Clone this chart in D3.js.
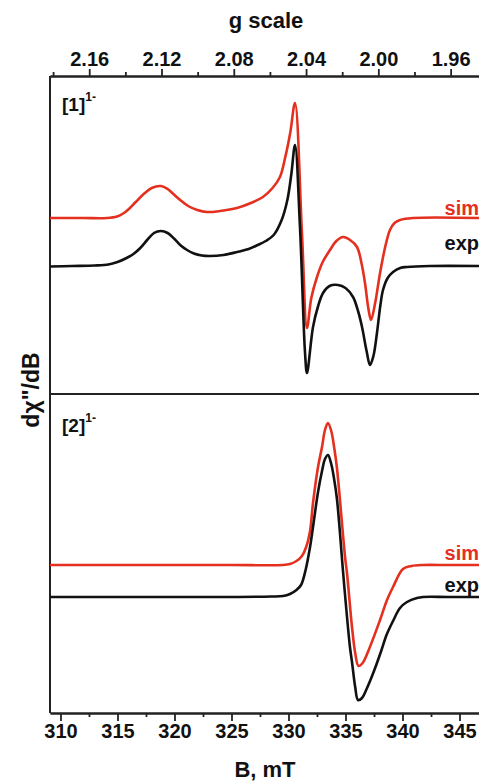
<!DOCTYPE html>
<html>
<head>
<meta charset="utf-8">
<script src="https://cdn.jsdelivr.net/npm/d3@7"></script>
<style>
  body { margin: 0; background: #fff; }
  text { font-family: "Liberation Sans", Arial, sans-serif; font-weight: bold; }
</style>
</head>
<body>
<svg id="chart" width="479" height="781"></svg>
<script>
// ------ data (B in mT, intensity in arbitrary units) ------
var bTicks = [310, 315, 320, 325, 330, 335, 340, 345]
var bMinor = [312.5, 317.5, 322.5, 327.5, 332.5, 337.5, 342.5]
var gTicks = [2.16, 2.12, 2.08, 2.04, 2.00, 1.96]
var gMinor = [2.18, 2.14, 2.10, 2.06, 2.02, 1.98]

// [1]1- experimental
var exp1 = [
  [309.08, -0.005], [311.0, 0.0], [313.0, 0.005], [314.2, 0.015], [315.0, 0.04],
  [315.8, 0.08], [316.4, 0.12], [317.0, 0.18], [317.6, 0.26], [318.2, 0.33],
  [318.82, 0.35], [319.4, 0.33], [320.0, 0.27], [320.5, 0.21], [321.1, 0.16],
  [321.7, 0.125], [322.4, 0.105], [323.1, 0.10], [324.3, 0.11], [325.5, 0.14],
  [326.5, 0.17], [327.3, 0.21], [328.0, 0.25], [328.7, 0.31], [329.4, 0.46],
  [329.9, 0.66], [330.25, 0.92], [330.57, 1.21], [331.01, 0.38], [331.45, -0.87],
  [331.62, -1.07], [332.15, -0.61], [332.6, -0.40], [333.03, -0.27], [333.6, -0.20],
  [334.34, -0.19], [335.0, -0.22], [335.66, -0.31], [336.1, -0.45], [336.45, -0.61],
  [336.85, -0.85], [337.15, -0.99], [337.45, -0.90], [337.76, -0.67], [338.05, -0.40],
  [338.29, -0.24], [338.7, -0.12], [339.17, -0.06], [339.8, -0.02], [340.39, -0.01],
  [342.41, 0.00], [346.71, 0.00]
]
// [1]1- simulated
var sim1 = [
  [309.08, 0], [312.0, 0], [314.08, 0.0], [314.96, 0.015], [315.5, 0.045],
  [316.0, 0.09], [316.6, 0.16], [317.3, 0.24], [318.0, 0.30], [318.82, 0.32],
  [319.4, 0.29], [319.9, 0.24], [320.5, 0.18], [321.2, 0.12], [322.0, 0.08],
  [322.85, 0.06], [324.0, 0.07], [325.48, 0.10], [326.7, 0.15], [327.76, 0.21],
  [328.6, 0.30], [329.25, 0.41], [329.7, 0.60], [330.15, 0.85], [330.57, 1.15],
  [331.18, -0.15], [331.62, -1.10], [332.0, -0.80], [332.50, -0.59], [333.0, -0.44],
  [333.64, -0.32], [334.2, -0.23], [334.78, -0.19], [335.4, -0.22], [336.01, -0.29],
  [336.4, -0.45], [336.71, -0.65], [337.0, -0.90], [337.24, -1.02], [337.6, -0.85],
  [338.03, -0.55], [338.5, -0.28], [338.90, -0.12], [339.3, -0.05], [339.78, -0.02],
  [340.92, 0.00], [346.71, 0.00]
]
// [2]1- experimental
var exp2 = [
  [309.08, 0], [318.0, 0], [325.0, 0], [328.5, 0.005], [329.52, 0.01],
  [330.13, 0.03], [330.70, 0.07], [331.10, 0.12], [331.50, 0.27], [331.89, 0.50],
  [332.15, 0.70], [332.59, 1.05], [332.94, 1.26], [333.20, 1.38], [333.46, 1.42],
  [333.75, 1.33], [334.00, 1.18], [334.25, 0.98], [334.78, 0.26], [334.96, 0.02],
  [335.39, -0.50], [335.57, -0.65], [335.85, -0.90], [336.10, -1.03], [336.45, -1.01],
  [336.89, -0.91], [337.50, -0.74], [338.10, -0.55], [338.60, -0.38], [339.17, -0.24],
  [339.78, -0.11], [340.39, -0.05], [341.27, -0.01], [341.80, 0], [344.0, 0],
  [346.71, 0]
]
// [2]1- simulated
var sim2 = [
  [309.08, 0], [318.0, 0], [325.0, 0], [329.52, 0], [330.13, 0.01],
  [330.70, 0.04], [331.18, 0.09], [331.55, 0.18], [331.89, 0.34], [332.15, 0.62],
  [332.59, 0.98], [332.94, 1.18], [333.20, 1.35], [333.46, 1.42], [333.75, 1.34],
  [334.00, 1.18], [334.25, 0.97], [334.96, 0.08], [335.13, -0.08], [335.57, -0.62],
  [335.85, -0.88], [336.14, -1.01], [336.50, -0.98], [337.00, -0.86], [338.03, -0.55],
  [338.64, -0.35], [339.17, -0.22], [340.04, -0.04], [340.80, -0.01], [341.80, 0],
  [344.0, 0], [346.71, 0]
]
var simShift = [0.48, 0.32]

var red = "#e4301f", black = "#111"
var margin = {top: 76, left: 50}
var width = 429, height = 637, split = 318

var svg = d3.select("#chart").append("g")
    .attr("transform", "translate(" + margin.left + "," + margin.top + ")")

// Scales
var x = d3.scaleLinear().domain([309.08, 346.71]).range([0, width])
var g = d3.scaleLinear().domain([2.1817, 1.9443]).range([0, width])
var yTop = d3.scaleLinear().domain([-1.28, 1.90]).range([split, 0])
var yBot = d3.scaleLinear().domain([-1.16, 2.03]).range([height, split])

// Bottom axis
svg.append("g")
    .attr("transform", "translate(0," + height + ")")
    .call(d3.axisBottom(x).tickValues(bTicks).tickSize(8).tickPadding(3).tickSizeOuter(0))
svg.append("g")
    .attr("transform", "translate(0," + height + ")")
    .call(d3.axisBottom(x).tickValues(bMinor).tickSize(4).tickFormat("").tickSizeOuter(0))

// Top axis (g scale)
svg.append("g")
    .call(d3.axisTop(g).tickValues(gTicks).tickFormat(d3.format(".2f")).tickSize(7).tickPadding(3).tickSizeOuter(0))
svg.append("g")
    .call(d3.axisTop(g).tickValues(gMinor).tickSize(4).tickFormat("").tickSizeOuter(0))

svg.selectAll(".domain").attr("stroke", "#222").attr("stroke-width", 2)
svg.selectAll(".tick line").attr("stroke", "#222").attr("stroke-width", 1.8)
svg.selectAll(".tick text").attr("font-size", "20px").attr("fill", "#111")
    .style("font-family", "'Liberation Sans', Arial, sans-serif").style("font-weight", "bold")

// left border and panel divider
svg.append("line").attr("x1", 0).attr("x2", 0).attr("y1", 0).attr("y2", height)
    .attr("stroke", "#222").attr("stroke-width", 2)
svg.append("line").attr("x1", 0).attr("x2", width).attr("y1", split).attr("y2", split)
    .attr("stroke", "#222").attr("stroke-width", 2)

// Curves
function drawCurve(data, y, shift, color){
    var line = d3.line()
        .x(function(d){ return x(d[0]) })
        .y(function(d){ return y(d[1] + shift) })
        .curve(d3.curveCatmullRom.alpha(0.5))
    svg.append("path")
        .datum(data)
        .attr("d", line)
        .attr("fill", "none")
        .attr("stroke", color)
        .attr("stroke-width", 2.6)
        .attr("stroke-linejoin", "round")
}
drawCurve(sim1, yTop, simShift[0], red)
drawCurve(exp1, yTop, 0, black)
drawCurve(sim2, yBot, simShift[1], red)
drawCurve(exp2, yBot, 0, black)

// sim / exp labels
var root = d3.select("#chart")
root.append("text").attr("x", 479).attr("y", 215).attr("text-anchor", "end")
    .attr("font-size", "20px").attr("fill", red).text("sim")
root.append("text").attr("x", 479).attr("y", 250).attr("text-anchor", "end")
    .attr("font-size", "20px").attr("fill", black).text("exp")
root.append("text").attr("x", 479).attr("y", 560).attr("text-anchor", "end")
    .attr("font-size", "20px").attr("fill", red).text("sim")
root.append("text").attr("x", 479).attr("y", 592).attr("text-anchor", "end")
    .attr("font-size", "20px").attr("fill", black).text("exp")

// Panel labels
function panelLabel(num, yPos){
    var t = root.append("text").attr("x", 62).attr("y", yPos).attr("font-size", "19px").attr("fill", "#111")
    t.append("tspan").text("[" + num + "]")
    t.append("tspan").attr("dy", -10).attr("font-size", "12px").text("1-")
}
panelLabel(1, 111)
panelLabel(2, 432)

// Axis titles
root.append("text").attr("x", 266).attr("y", 28).attr("text-anchor", "middle")
    .attr("font-size", "22px").attr("fill", "#111").text("g scale")
root.append("text").attr("x", 265).attr("y", 777).attr("text-anchor", "middle")
    .attr("font-size", "22px").attr("fill", "#111").text("B, mT")
root.append("text").attr("x", 39).attr("y", 390).attr("text-anchor", "middle")
    .attr("transform", "rotate(-90, 39, 390)")
    .attr("font-size", "23px").attr("fill", "#111").text("dχ\"/dB")
</script>
</body>
</html>
